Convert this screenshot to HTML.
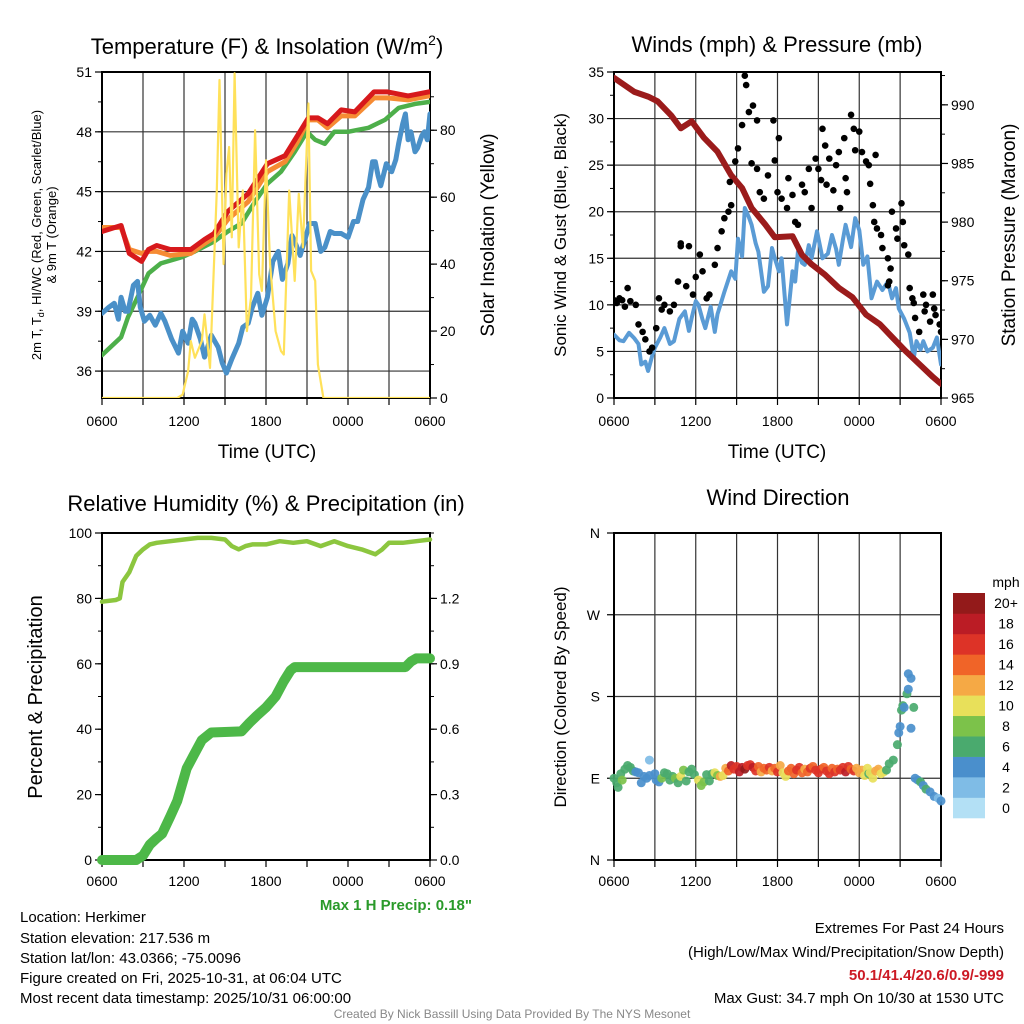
<!DOCTYPE html>
<html><head><meta charset="utf-8">
<style>
html,body{margin:0;padding:0;background:#fff;}
svg{display:block;font-family:"Liberation Sans",Arial,sans-serif;}
</style></head>
<body>
<svg id="fig" width="1024" height="1024" viewBox="0 0 1024 1024" xmlns="http://www.w3.org/2000/svg">
<g id="layer"></g>
<text x="267" y="54" font-size="22" text-anchor="middle">Temperature (F) &amp; Insolation (W/m<tspan dy="-9" font-size="14">2</tspan><tspan dy="9">)</tspan></text>
<text x="777" y="52" font-size="22" text-anchor="middle">Winds (mph) &amp; Pressure (mb)</text>
<text x="266" y="511" font-size="22" text-anchor="middle">Relative Humidity (%) &amp; Precipitation (in)</text>
<text x="778" y="505" font-size="22" text-anchor="middle">Wind Direction</text>
<text x="267" y="458" font-size="19" text-anchor="middle">Time (UTC)</text>
<text x="777" y="458" font-size="19" text-anchor="middle">Time (UTC)</text>
<text transform="translate(41,235) rotate(-90)" font-size="13" text-anchor="middle">2m T, T<tspan dy="3" font-size="9">d</tspan><tspan dy="-3">, HI/WC (Red, Green, Scarlet/Blue)</tspan></text>
<text transform="translate(56,235) rotate(-90)" font-size="13" text-anchor="middle">&amp; 9m T (Orange)</text>
<text transform="translate(494,235) rotate(-90)" font-size="19" text-anchor="middle">Solar Insolation (Yellow)</text>
<text transform="translate(566,235) rotate(-90)" font-size="17" text-anchor="middle">Sonic Wind &amp; Gust (Blue, Black)</text>
<text transform="translate(1015,235) rotate(-90)" font-size="19" text-anchor="middle">Station Pressure (Maroon)</text>
<text transform="translate(42,697) rotate(-90)" font-size="20" text-anchor="middle">Percent &amp; Precipitation</text>
<text transform="translate(566,697) rotate(-90)" font-size="17" text-anchor="middle">Direction (Colored By Speed)</text>
<text x="472" y="910" font-size="15" font-weight="bold" fill="#2a9a2a" text-anchor="end">Max 1 H Precip: 0.18"</text>
<g font-size="15">
<text x="20" y="922">Location: Herkimer</text>
<text x="20" y="943">Station elevation: 217.536 m</text>
<text x="20" y="963">Station lat/lon: 43.0366; -75.0096</text>
<text x="20" y="983">Figure created on Fri, 2025-10-31, at 06:04 UTC</text>
<text x="20" y="1003">Most recent data timestamp: 2025/10/31 06:00:00</text>
</g>
<g font-size="15" text-anchor="end">
<text x="1004" y="933">Extremes For Past 24 Hours</text>
<text x="1004" y="957">(High/Low/Max Wind/Precipitation/Snow Depth)</text>
<text x="1004" y="980" font-weight="bold" fill="#cc1a25">50.1/41.4/20.6/0.9/-999</text>
<text x="1004" y="1003">Max Gust: 34.7 mph On 10/30 at 1530 UTC</text>
</g>
<text x="512" y="1018" font-size="12" fill="#888" text-anchor="middle">Created By Nick Bassill Using Data Provided By The NYS Mesonet</text>
</svg>
<script>
// ---- Panel 1 data (hours since 0600 UTC) ----
const redH=[0,1.4,2,2.9,3.4,4,5,6.5,7.5,8.2,9.2,10.7,12.1,13.4,14.3,15.1,15.8,16.5,17.5,18.5,19.9,20.9,22.4,23.9,24];
const redV=[43.0,43.3,41.9,41.5,42.1,42.3,42.1,42.1,42.6,42.9,44.0,44.9,46.4,46.8,47.8,48.7,48.7,48.4,49.1,49.0,50.0,50.0,49.8,50.0,50.0];
const orangeH=[0,1.4,2,2.9,3.4,4,5,6.5,7.5,8.2,9.2,10.7,12.1,13.4,14.3,15.1,15.8,16.5,17.5,18.5,19.9,20.9,22.4,23.9,24];
const orangeV=[43.2,43.2,42.1,41.9,42.0,42.0,41.8,41.9,42.4,42.7,43.6,44.5,46.0,46.5,47.5,48.6,48.6,48.2,48.8,48.8,49.7,49.7,49.6,49.8,49.8];
const greenH=[0,1.4,1.9,2.6,3.4,4.3,5.8,6.8,8.2,9.2,10.2,11.2,12.1,13.1,14.1,15,15.6,16.3,17,18,19.5,20.7,21.7,22.9,24];
const greenV=[36.8,37.7,38.7,39.7,40.9,41.4,41.7,42.0,42.5,43.0,43.4,44.5,45.4,46.0,47.0,48.0,47.6,47.4,48.0,48.0,48.2,48.6,49.2,49.4,49.5];
const blueH=[0,0.5,0.9,1.2,1.4,1.7,1.9,2.3,2.6,2.8,3.1,3.5,3.9,4.3,4.6,5.1,5.6,5.9,6.3,6.6,6.8,7.2,7.5,8,8.5,8.8,9.1,9.5,10,10.3,10.7,11,11.4,11.7,12.1,12.5,12.9,13.2,13.6,13.9,14.1,14.5,14.8,15.2,15.6,16,16.3,16.7,17,17.5,18,18.4,18.7,19.1,19.5,19.8,20,20.2,20.4,20.8,21.2,21.5,21.7,22,22.2,22.4,22.6,22.9,23.1,23.4,23.6,23.8,24];
const blueV=[38.9,39.2,39.4,38.6,39.7,39.0,39.0,40.3,40.5,39.2,38.5,38.8,38.3,38.9,38.5,37.6,36.9,38.0,37.4,38.6,38.4,37.6,36.7,37.8,37.2,36.4,35.9,36.6,37.4,38.2,38.4,39.2,39.9,38.8,39.7,41.5,42.0,40.6,41.4,42.8,42.5,41.8,42.5,43.4,43.4,42.0,42.2,43.0,42.9,42.9,42.7,43.5,43.5,44.6,45.2,46.5,46.5,45.8,45.3,46.4,46.0,46.6,47.4,48.4,48.9,47.6,48.0,47.0,47.2,47.8,48.0,47.6,48.9];
const solarH=[0,5.5,5.9,6.3,6.5,6.8,7.3,7.5,7.9,8.1,8.4,8.6,8.9,9.1,9.3,9.5,9.7,10,10.3,10.6,10.9,11.2,11.5,11.7,12,12.3,12.7,13.1,13.3,13.7,14.1,14.4,14.7,15.1,15.3,15.6,15.8,16.2,24];
const solarV=[0,0,1,8,17,12,17,25,9,30,62,95,40,67,75,48,97,45,62,20,30,80,37,32,71,40,20,14,13,62,35,61,45,88,38,35,10,0,0];
const tempTicks=[36,39,42,45,48,51];
const solarTicks=[0,20,40,60,80];
const timeLabels=["0600","1200","1800","0000","0600"];
// ---- Panel 2 data ----
const presH=[0,1.5,2.5,3.2,4.2,4.9,5.7,6.6,7.6,8.6,9.4,10.1,11.1,11.8,13.1,13.8,14.5,15.5,16.5,17.5,18.5,19.5,20.4,21.4,22.4,23.4,24];
const presV=[992.3,991.1,990.7,990.3,989.1,988.0,988.6,987.2,986.0,984.0,982.9,981.2,979.8,978.7,978.8,977.2,976.4,975.5,974.4,973.6,972.1,971.3,970.2,969.0,967.9,966.8,966.2];
const windH=[0,0.4,0.7,1.1,1.5,1.8,2,2.3,2.5,2.8,3,3.4,3.7,4.1,4.4,4.8,5.2,5.5,5.7,6,6.2,6.5,6.7,7.1,7.4,7.6,8.1,8.6,8.9,9.1,9.4,9.6,9.9,10.1,10.4,10.6,11,11.3,11.6,11.8,12.1,12.3,12.7,13.1,13.3,13.5,13.8,14,14.3,14.5,14.9,15.3,15.7,16,16.3,16.5,16.8,17,17.4,17.7,18,18.3,18.6,18.9,19.3,19.7,20.1,20.4,20.7,20.9,21.3,21.7,22,22.2,22.5,22.7,23,23.4,23.7,24];
const windV=[6.8,6.2,6.1,7.0,6.4,5.8,3.6,3.9,2.9,4.5,5.4,6.5,7.5,5.8,6.1,8.5,9.3,7.2,8.6,10.4,10,8.4,7.5,9.8,7.1,9.0,11.4,13.6,12.8,17.1,15.2,20.4,19.4,18.6,16.6,15.7,11.4,12.0,16.1,15.0,13.6,15.0,7.9,13.6,12.5,15.7,14.5,14.3,16.4,15.0,17.9,15.0,15.5,17.5,16.0,14.3,17.0,18.6,16.2,19.3,18.0,14.3,15.2,10.7,12.5,11.6,12.5,10.7,11.8,9.6,8.5,7.0,4.3,6.1,5.2,6.1,5.0,5.4,6.5,3.6];
const gustH=[0,0.4,0.6,1,1.2,1.6,1.8,2.1,2.3,2.6,2.8,3.1,3.3,3.7,4.1,4.4,4.7,4.9,5.3,5.5,5.8,6,6.3,6.5,6.8,7,7.4,7.6,7.9,8.1,8.4,8.6,8.5,8.9,9.1,9.4,9.6,9.7,9.9,10.2,10.5,10.1,10.5,10.7,11,11.3,11.7,11.8,12.1,12,12.3,12.7,12.8,13.1,13.3,13.5,13.8,14,14.3,14.5,14.8,15,15.2,15.3,15.5,15.6,15.8,16.1,16.3,16.5,16.6,16.9,17,17.1,17.4,17.6,17.7,18,18.2,18.5,18.7,19,19.2,18.8,19.1,19.3,19.6,19.7,20.1,20.3,20.4,20.7,20.8,21.1,21.2,21.3,21.6,21.7,21.9,22.1,22.4,22.7,22.9,23.2,23.4,23.6,23.9,24,20.1,20.2,22,22.8,23.5,0.2,0.8,3.5,4.9];
const gustV=[10.5,10.7,10.5,11.8,10.4,10,7.9,7.1,6.3,5,5.4,7.5,10.7,10,9.3,10,12.5,16.6,12,16.3,11.1,13,15.4,13.6,10.7,11.1,14.3,16.1,17.9,19.3,20,20.7,23.2,25.4,26.8,29.3,34.6,33.6,30.7,31.4,29.8,25.2,24.6,22.1,21.4,23.9,29.8,25.5,27.9,22.1,21.4,20.4,23.6,21.8,18.9,18.6,22.9,22.1,24.6,20.4,25.7,24.6,23.4,28.9,27.1,22.9,25.7,22.3,25,26.4,20.4,27.9,23.6,22.1,30.4,28.9,26.6,28.6,26.4,25.4,25,20.7,26.1,23,18.9,18.2,17.5,16.1,15,13.9,20,18.2,17.1,20.9,18.9,16.4,15.4,11.8,10.7,8.6,7.1,11.1,10,8.2,11.1,8.9,7.9,7.1,12.1,12.5,10.2,9.3,9.6,10.2,9.8,9.5,16.3];
const windTicks=[0,5,10,15,20,25,30,35];
const presTicks=[965,970,975,980,985,990];
// ---- Panel 3 data ----
const rhH=[0,1,1.3,1.5,2,2.5,3,3.5,4,5,6,7,8,9,9.5,10,10.5,11,12,13,14,15,16,17,18,19,20,20.5,21,22,23,24];
const rhV=[79,79.5,80,85,88,93,95,96.5,97,97.5,98,98.5,98.5,98,96,95,96,96.5,96.5,97.5,97,97.5,96,97.5,96,95,93.5,95,97,97,97.5,98];
const precipH=[0,2.5,3,3.5,4,4.4,5,5.5,6.2,6.7,7.3,8,10.2,10.8,11.3,12,12.7,13.3,13.8,14.1,22.2,22.6,23,24];
const precipV=[0,0,0.02,0.07,0.10,0.12,0.20,0.27,0.42,0.48,0.55,0.585,0.59,0.63,0.66,0.70,0.75,0.82,0.87,0.885,0.885,0.91,0.925,0.925];
const rhTicks=[0,20,40,60,80,100];
const precipTicks=[0.0,0.3,0.6,0.9,1.2];
// ---- Panel 4 data ----
const dirH=[0,0.2,0.3,0.5,0.6,0.8,1,1.2,1.4,1.6,1.8,2,2.2,2.4,2.6,2.6,3,3.1,3.3,3.5,3.7,3.9,4.1,4.3,4.5,4.7,4.9,5.1,5.3,5.5,5.7,5.9,6.2,6.4,6.6,6.8,7,7.2,7.4,7.6,7.8,8,8.2,8.4,8.6,8.8,9,9.2,9.4,9.6,9.8,10,10.2,10.4,10.6,10.8,11,11.2,11.4,11.6,11.8,12,12.2,12.4,12.6,12.8,13,13.2,13.4,13.6,13.8,14,14.2,14.4,14.6,14.8,15,15.2,15.4,15.6,15.8,16,16.2,16.4,16.6,16.8,17,17.2,17.4,17.6,17.8,18,18.2,18.4,18.6,18.7,18.8,19,19.2,19.4,19.6,19.8,20,20.2,20.5,20.8,20.9,21,21.1,21.2,21.3,21.5,21.6,21.8,21.6,22,21.8,22.1,22.3,22.5,22.7,22.9,23.2,23.5,23.8,24];
const dirV=[90,85,80,95,88,100,104,102,98,97,96,85,92,90,93,110,95,88,86,90,96,95,88,92,90,85,92,99,87,97,100,94,88,82,86,94,87,95,96,93,92,93,101,98,104,100,103,97,102,100,104,105,102,98,103,97,101,99,102,98,101,97,104,96,92,98,101,95,99,102,96,100,97,101,103,99,96,100,102,98,95,101,97,100,99,102,97,103,100,98,101,96,99,93,101,95,96,90,98,100,95,97,99,106,110,127,140,147,165,170,168,183,188,200,205,168,145,90,88,86,82,78,75,70,68,65];
const dirSpd=[6,6,7,7,8,6,6,7,6,5,4,4,4,5,4,2,5,4,5,8,6,6,7,7,8,6,10,8,6,7,6,7,10,8,8,6,6,7,11,8,12,11,13,14,18,16,17,19,18,20,17,16,18,17,15,12,15,14,16,13,15,17,12,10,11,14,15,14,16,17,15,13,15,17,15,16,16,17,15,17,17,15,16,14,17,17,18,16,15,16,13,12,12,11,10,7,10,11,12,13,11,10,6,6,6,6,4,4,6,6,4,6,4,4,4,6,4,5,5,6,4,6,4,4,2,4];
const dirLabels=["N","E","S","W","N"];
const speedBins=["0","2","4","6","8","10","12","14","16","18","20+"];
const speedColors=["#b3e0f5","#7fbce6","#4a8fcc","#4aaa6e","#7cc24a","#e8e05a","#f5a945","#f06428","#dd3327","#bb1c25","#931a1a"];

const NS="http://www.w3.org/2000/svg";
const layer=document.getElementById('layer');
function mk(tag,attrs,parent){const e=document.createElementNS(NS,tag);for(const k in attrs)e.setAttribute(k,attrs[k]);(parent||layer).appendChild(e);return e;}
function scale(d0,d1,r0,r1){return v=>r0+(v-d0)*(r1-r0)/(d1-d0);}

function panel(name){
  const g=mk('g',{});
  
  
  return g;
}
function timeAxis(g,sx,y0,y1,labelY,name){
  for(let h=0;h<=24;h+=3){
    const X=sx(h);
    const l=mk('line',{x1:X,x2:X,y1:y0,y2:y1,stroke:'#333','stroke-width':1.2},g);
    
    
    mk('line',{x1:X,x2:X,y1:y1,y2:y1+7,stroke:'#000','stroke-width':1.2},g);
  }
  timeLabels.forEach((t,i)=>{
    const tx=mk('text',{x:sx(i*6),y:labelY,'font-size':14,'text-anchor':'middle'},g);
    tx.textContent=t;
    
    
  });
}
function yAxis(g,sy,ticks,x,side,fmt,grid,x0,x1,minorStep,yTop,yBot,name){
  const dir=side==='left'?-1:1;
  ticks.forEach(v=>{
    const Y=sy(v);
    if(grid){const gl=mk('line',{x1:x0,x2:x1,y1:Y,y2:Y,stroke:'#333','stroke-width':1.2},g);
      
      }
    mk('line',{x1:x,x2:x+dir*7,y1:Y,y2:Y,stroke:'#000','stroke-width':1.2},g);
    const t=mk('text',{x:x+dir*10,y:Y+5,'font-size':14,'text-anchor':side==='left'?'end':'start'},g);
    t.textContent=fmt(v);
    
    
  });
  if(minorStep){
    for(let v=ticks[0]-minorStep*6;v<=ticks[ticks.length-1]+minorStep*6;v+=minorStep){
      const Y=sy(v); if(Y<yTop-0.5||Y>yBot+0.5) continue;
      mk('line',{x1:x,x2:x+dir*4,y1:Y,y2:Y,stroke:'#000','stroke-width':1},g);
    }
  }
}
function frame(g,x0,x1,y0,y1){
  const r=mk('rect',{x:x0,y:y0,width:x1-x0,height:y1-y0,fill:'none',stroke:'#000','stroke-width':2},g);
  
  
}
function path(g,H,V,sx,sy,color,w,name){
  const d=H.map((h,i)=>(i?'L':'M')+sx(h).toFixed(1)+','+sy(V[i]).toFixed(1)).join('');
  const p=mk('path',{d:d,fill:'none',stroke:color,'stroke-width':w,'stroke-linejoin':'round','stroke-linecap':'round'},g);
  
  
  return p;
}
function clip(id,x0,x1,y0,y1){const c=mk('clipPath',{id:id});mk('rect',{x:x0,y:y0-3,width:x1-x0,height:y1-y0+3},c);}

// ===== Panel 1 =====
(function(){
  const x0=102,x1=430,y0=72,y1=398;
  const g=panel('temperature-panel');
  const sx=scale(0,24,x0,x1), sy=scale(51,34.65,y0,y1), sr=scale(0,97.4,y1,y0);
  clip('c1',x0,x1,y0,y1);
  timeAxis(g,sx,y0,y1,426,'temperature');
  yAxis(g,sy,tempTicks,x0,'left',v=>v,true,x0,x1,1.5,y0,y1,'temperature');
  yAxis(g,sr,solarTicks,x1,'right',v=>v,false,0,0,10,y0,y1,'insolation');
  frame(g,x0,x1,y0,y1);
  const d=mk('g',{'clip-path':'url(#c1)'},g);
  path(d,greenH,greenV,sx,sy,'#4daf4a',4.5,'dewpoint-line');
  path(d,blueH,blueV,sx,sy,'#4a90c8',5,'windchill-line');
  path(d,orangeH,orangeV,sx,sy,'#f68b33',5,'9m-temperature-line');
  path(d,redH,redV,sx,sy,'#d7191c',5,'2m-temperature-line');
  path(d,solarH,solarV,sx,sr,'#ffe15a',2.2,'insolation-line');
})();
// ===== Panel 2 =====
(function(){
  const x0=614,x1=941,y0=72,y1=398;
  const g=panel('wind-panel');
  const sx=scale(0,24,x0,x1), sy=scale(0,35,y1,y0), sp=scale(965,992.8,y1,y0);
  clip('c2',x0,x1,y0,y1);
  timeAxis(g,sx,y0,y1,426,'wind');
  yAxis(g,sy,windTicks,x0,'left',v=>v,true,x0,x1,2.5,y0,y1,'wind');
  yAxis(g,sp,presTicks,x1,'right',v=>v,false,0,0,2.5,y0,y1,'pressure');
  frame(g,x0,x1,y0,y1);
  const d=mk('g',{'clip-path':'url(#c2)'},g);
  path(d,windH,windV,sx,sy,'#5a9bd5',4,'sonic-wind-line');
  path(d,presH,presV,sx,sp,'#9b1b1b',6,'pressure-line');
  gustH.forEach((h,i)=>{
    const c=mk('circle',{cx:sx(h),cy:sy(gustV[i]),r:3.3,fill:'#000'},d);
    
    
  });
})();
// ===== Panel 3 =====
(function(){
  const x0=102,x1=430,y0=533,y1=860;
  const g=panel('humidity-panel');
  const sx=scale(0,24,x0,x1), sy=scale(0,100,y1,y0), sp=scale(0,1.5,y1,y0);
  timeAxis(g,sx,y1,y1,886,'humidity');
  yAxis(g,sy,rhTicks,x0,'left',v=>v,false,0,0,10,y0,y1,'humidity');
  yAxis(g,sp,precipTicks,x1,'right',v=>v.toFixed(1),false,0,0,0.15,y0,y1,'precip');
  frame(g,x0,x1,y0,y1);
  path(g,precipH,precipV,sx,sp,'#4db848',10,'precipitation-line');
  path(g,rhH,rhV,sx,sy,'#8cc63f',4.5,'relative-humidity-line');
})();
// ===== Panel 4 =====
(function(){
  const x0=614,x1=941,y0=533,y1=860;
  const g=panel('direction-panel');
  const sx=scale(0,24,x0,x1), sy=scale(0,360,y1,y0);
  timeAxis(g,sx,y0,y1,886,'direction');
  dirLabels.forEach((lab,i)=>{
    const Y=sy(i*90);
    const gl=mk('line',{x1:x0,x2:x1,y1:Y,y2:Y,stroke:'#333','stroke-width':1.2},g);
    
    
    mk('line',{x1:x0,x2:x0-7,y1:Y,y2:Y,stroke:'#000','stroke-width':1.2},g);
    const t=mk('text',{x:x0-14,y:Y+5,'font-size':14,'text-anchor':'end'},g);
    t.textContent=lab;
    
    
  });
  frame(g,x0,x1,y0,y1);
  dirH.forEach((h,i)=>{
    const bin=Math.min(10,Math.floor(dirSpd[i]/2));
    const c=mk('circle',{cx:sx(h),cy:sy(dirV[i]),r:4.5,fill:speedColors[bin],'fill-opacity':0.92},g);
    
    
  });
  const cb=mk('g',{});
  
  
  const cbTop=593,cbBot=818,bh=(cbBot-cbTop)/speedColors.length;
  speedColors.forEach((col,i)=>{
    const Y=cbBot-(i+1)*bh;
    const r=mk('rect',{x:953,y:Y,width:32,height:bh+0.3,fill:col},cb);
    
    
    const t=mk('text',{x:1006,y:Y+bh/2+5,'font-size':14,'text-anchor':'middle'},cb);
    t.textContent=speedBins[i];
    
    
  });
  const u=mk('text',{x:1006,y:587,'font-size':14,'text-anchor':'middle'},cb);
  u.textContent='mph';
  
  
})();
</script>
</body></html>
